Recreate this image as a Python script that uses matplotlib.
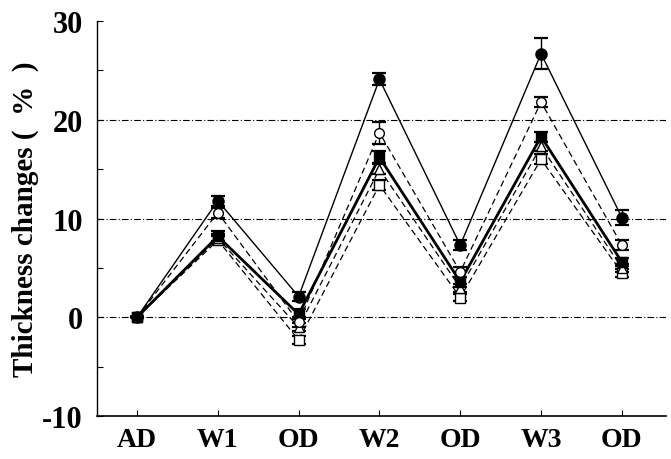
import numpy as np
import matplotlib
matplotlib.use("Agg")
import matplotlib.pyplot as plt

# -------------------------------
# Data
# -------------------------------
stages = ["AD", "W1", "OD", "W2", "OD", "W3", "OD"]

filled_circle = [0, 11.8, 2.1, 24.1, 7.3, 26.7, 10.1]
filled_circle_err = [0, 0.5, 0.5, 0.6, 0.5, 1.6, 0.8]

open_circle = [0, 10.6, -0.5, 18.7, 4.6, 21.8, 7.3]
open_circle_err = [0, 0.5, 0.5, 1.1, 0.5, 0.5, 0.5]

filled_square = [0, 8.2, 0.3, 16.2, 3.6, 18.3, 5.6]
filled_square_err = [0, 0.5, 0.5, 0.6, 0.5, 0.5, 0.4]

open_triangle = [0, 8.0, -1.0, 15.0, 3.0, 17.3, 5.0]
open_triangle_err = [0, 0.4, 0.4, 0.5, 0.4, 0.5, 0.4]

open_square = [0, 7.8, -2.3, 13.4, 2.0, 16.0, 4.5]
open_square_err = [0, 0.4, 0.4, 0.5, 0.4, 0.5, 0.4]

x = np.arange(len(stages))

plt.rcParams["font.family"] = ["Liberation Serif", "DejaVu Serif"]
plt.rcParams["font.weight"] = "bold"
plt.rcParams["axes.unicode_minus"] = False

fig = plt.figure(figsize=(6.71, 4.6), dpi=100)
ax = fig.add_axes([0.144, 0.0935, 0.849, 0.8585])

# reference lines
for yv in [0, 10, 20]:
    ax.axhline(yv, color="black", lw=0.8, ls=(0, (6, 2, 1, 2)), zorder=1)

err_kw = dict(capsize=5, elinewidth=1.0, capthick=1.6, ecolor="black")

ax.errorbar(x, open_square, yerr=open_square_err, color="black", lw=0.9,
            ls=(0, (5, 3)), marker="s", ms=7, mfc="white", mec="black", **err_kw)
ax.errorbar(x, open_triangle, yerr=open_triangle_err, color="black", lw=0.9,
            ls=(0, (5, 3)), marker="^", ms=7, mfc="white", mec="black", **err_kw)
ax.errorbar(x, filled_square, yerr=filled_square_err, color="black", lw=2.0,
            ls="-", marker="s", ms=7, mfc="black", mec="black", **err_kw)
ax.errorbar(x, open_circle, yerr=open_circle_err, color="black", lw=0.9,
            ls=(0, (5, 3)), marker="o", ms=7, mfc="white", mec="black", **err_kw)
ax.errorbar(x, filled_circle, yerr=filled_circle_err, color="black", lw=1.0,
            ls="-", marker="o", ms=8, mfc="black", mec="black", **err_kw)

# -------------------------------
# Axes styling
# -------------------------------
ax.set_xlim(-0.5, 6.55)
ax.set_ylim(-10, 30)
ax.set_yticks([-10, 0, 10, 20, 30])
ax.set_yticks([-5, 5, 15, 25], minor=True)
ax.set_xticks(x)
ax.set_xticklabels(stages, fontsize=20, fontweight="bold")
ax.tick_params(axis="y", which="both", direction="in", labelsize=22, length=4,
               width=0.8, pad=10)
ax.tick_params(axis="x", direction="in", length=4, width=0.8, pad=8)
for lbl in ax.get_yticklabels():
    lbl.set_fontweight("bold")

ax.spines["top"].set_visible(False)
ax.spines["right"].set_visible(False)
ax.spines["left"].set_linewidth(1.0)
ax.spines["bottom"].set_linewidth(1.2)

ax.set_ylabel("Thickness changes (  %  )", fontsize=21, fontweight="bold", labelpad=2)

fig.savefig("out.png", dpi=100)
